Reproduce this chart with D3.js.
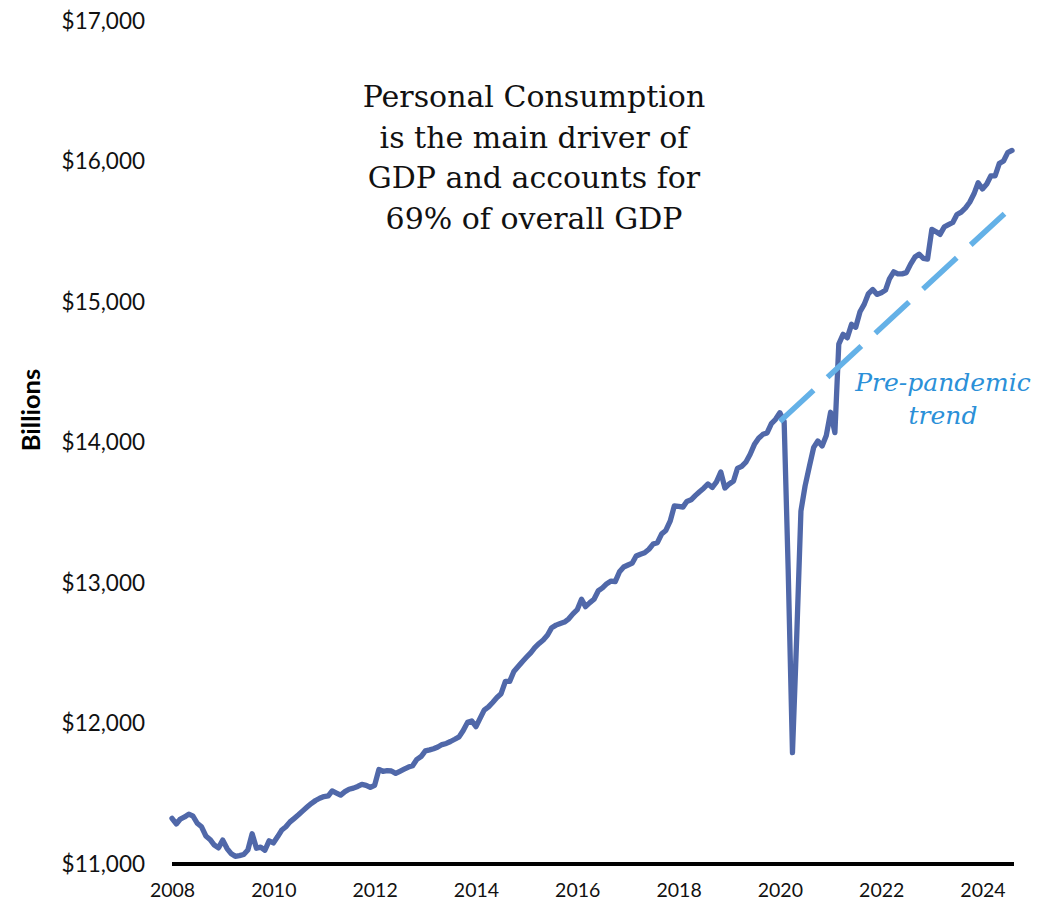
<!DOCTYPE html>
<html>
<head>
<meta charset="utf-8">
<script src="https://cdn.jsdelivr.net/npm/d3@7"></script>
<style>
  body { margin: 0; background: #ffffff; }
  svg { display: block; }
</style>
</head>
<body>
<svg id="chart" width="1047" height="907"></svg>
<script>
// Real personal consumption expenditures, billions, monthly from Jan 2008
const firstMonth = "2008-01";
const pce2008 = [11325, 11285, 11320, 11335, 11355, 11340, 11290, 11265, 11200, 11175, 11135, 11115];
const pce2009 = [11170, 11110, 11075, 11055, 11060, 11068, 11100, 11215, 11112, 11120, 11098, 11165];
const pce2010 = [11150, 11195, 11240, 11265, 11300, 11325, 11350, 11378, 11405, 11430, 11452, 11468];
const pce2011 = [11480, 11485, 11520, 11505, 11490, 11515, 11532, 11540, 11552, 11567, 11560, 11545];
const pce2012 = [11560, 11673, 11660, 11665, 11662, 11645, 11660, 11675, 11690, 11700, 11745, 11765];
const pce2013 = [11805, 11812, 11820, 11833, 11850, 11858, 11872, 11888, 11905, 11950, 12008, 12018];
const pce2014 = [11978, 12040, 12095, 12118, 12150, 12185, 12212, 12300, 12300, 12370, 12405, 12440];
const pce2015 = [12473, 12505, 12540, 12570, 12595, 12630, 12682, 12700, 12712, 12722, 12745, 12780];
const pce2016 = [12810, 12884, 12832, 12860, 12884, 12945, 12965, 12995, 13014, 13010, 13080, 13114];
const pce2017 = [13128, 13142, 13192, 13205, 13215, 13240, 13277, 13287, 13350, 13374, 13440, 13548];
const pce2018 = [13545, 13540, 13580, 13592, 13622, 13650, 13675, 13705, 13680, 13720, 13790, 13676];
const pce2019 = [13705, 13726, 13815, 13830, 13860, 13916, 13985, 14030, 14058, 14068, 14135, 14165];
const pce2020 = [14212, 14150, 13100, 11792, 12600, 13512, 13690, 13830, 13965, 14011, 13975, 14050];
const pce2021 = [14215, 14070, 14700, 14770, 14745, 14841, 14820, 14930, 14985, 15060, 15089, 15054];
const pce2022 = [15065, 15085, 15165, 15215, 15200, 15200, 15209, 15270, 15320, 15340, 15310, 15305];
const pce2023 = [15517, 15500, 15481, 15535, 15550, 15566, 15623, 15640, 15670, 15710, 15770, 15849];
const pce2024 = [15805, 15840, 15897, 15897, 15985, 16004, 16063, 16079];

// Pre-pandemic trend line, start and end
const trendMonths = ["2020-01", "2024-07"];
const trendValues = [14150, 15650];

const yTickValues = [11000, 12000, 13000, 14000, 15000, 16000, 17000];
const xTickYears = [2008, 2010, 2012, 2014, 2016, 2018, 2020, 2022, 2024];

const titleLines = ["Personal Consumption", "is the main driver of", "GDP and accounts for", "69% of overall GDP"];
const trendLabelLines = ["Pre-pandemic", "trend"];
const yAxisTitle = "Billions";

// ---- build the series ----
const parseMonth = d3.timeParse("%Y-%m");
const values = [].concat(pce2008, pce2009, pce2010, pce2011, pce2012, pce2013, pce2014,
  pce2015, pce2016, pce2017, pce2018, pce2019, pce2020, pce2021, pce2022, pce2023, pce2024);
const start = parseMonth(firstMonth);
const series = values.map((v, i) => ({ date: d3.timeMonth.offset(start, i), value: v }));
const trend = trendMonths.map((m, i) => ({ date: parseMonth(m), value: trendValues[i] }));

const svg = d3.select("#chart");
const plot = { left: 172, right: 1012, top: 21, bottom: 864 };

const x = d3.scaleTime()
  .domain([series[0].date, series[series.length - 1].date])
  .range([plot.left, plot.right]);
const y = d3.scaleLinear()
  .domain([11000, 17000])
  .range([plot.bottom, plot.top]);

const labelFont = "Lato, 'Open Sans', sans-serif";

// y axis labels (no axis line)
const yAxis = svg.append("g")
  .attr("transform", `translate(${plot.left},0)`)
  .call(d3.axisLeft(y).tickValues(yTickValues).tickSize(0).tickPadding(27)
    .tickFormat(d => "$" + d3.format(",")(d)));
yAxis.select(".domain").remove();
yAxis.selectAll("text")
  .attr("font-family", labelFont)
  .attr("font-size", 22.5)
  .attr("fill", "#111");

// x axis with the heavy baseline
const xAxis = svg.append("g")
  .attr("transform", `translate(0,${plot.bottom})`)
  .call(d3.axisBottom(x)
    .tickValues(xTickYears.map(yr => new Date(yr, 0, 1)))
    .tickSize(0).tickSizeOuter(0).tickPadding(19)
    .tickFormat(d3.timeFormat("%Y")));
xAxis.select(".domain")
  .attr("stroke", "#000")
  .attr("stroke-width", 4)
  .attr("d", `M${plot.left},0H${plot.right + 2}`);
xAxis.selectAll("text")
  .attr("font-family", labelFont)
  .attr("font-size", 19.5)
  .attr("fill", "#111");

// y axis title
svg.append("text")
  .attr("transform", "translate(30,410) rotate(-90)")
  .attr("text-anchor", "middle")
  .attr("dominant-baseline", "central")
  .attr("font-family", labelFont)
  .attr("font-weight", "bold")
  .attr("font-size", 25.5)
  .attr("fill", "#000")
  .text(yAxisTitle);

// consumption line
const line = d3.line().x(d => x(d.date)).y(d => y(d.value));
svg.append("path")
  .datum(series)
  .attr("fill", "none")
  .attr("stroke", "#5068a9")
  .attr("stroke-width", 5.3)
  .attr("stroke-linejoin", "round")
  .attr("stroke-linecap", "round")
  .attr("d", line);

// dashed pre-pandemic trend
svg.append("path")
  .datum(trend)
  .attr("fill", "none")
  .attr("stroke", "#64b1e7")
  .attr("stroke-width", 5.5)
  .attr("stroke-dasharray", "46,19")
  .attr("d", line);

// headline text
svg.append("g")
  .selectAll("text")
  .data(titleLines)
  .join("text")
  .attr("x", 534)
  .attr("y", (d, i) => 107 + i * 40.7)
  .attr("text-anchor", "middle")
  .attr("font-family", "'DejaVu Serif', serif")
  .attr("font-size", 30)
  .attr("fill", "#111")
  .text(d => d);

// trend label
svg.append("g")
  .selectAll("text")
  .data(trendLabelLines)
  .join("text")
  .attr("x", 943)
  .attr("y", (d, i) => 391 + i * 33)
  .attr("text-anchor", "middle")
  .attr("font-family", "'DejaVu Serif', serif")
  .attr("font-style", "italic")
  .attr("font-size", 25)
  .attr("fill", "#2b90d8")
  .text(d => d);
</script>
</body>
</html>
